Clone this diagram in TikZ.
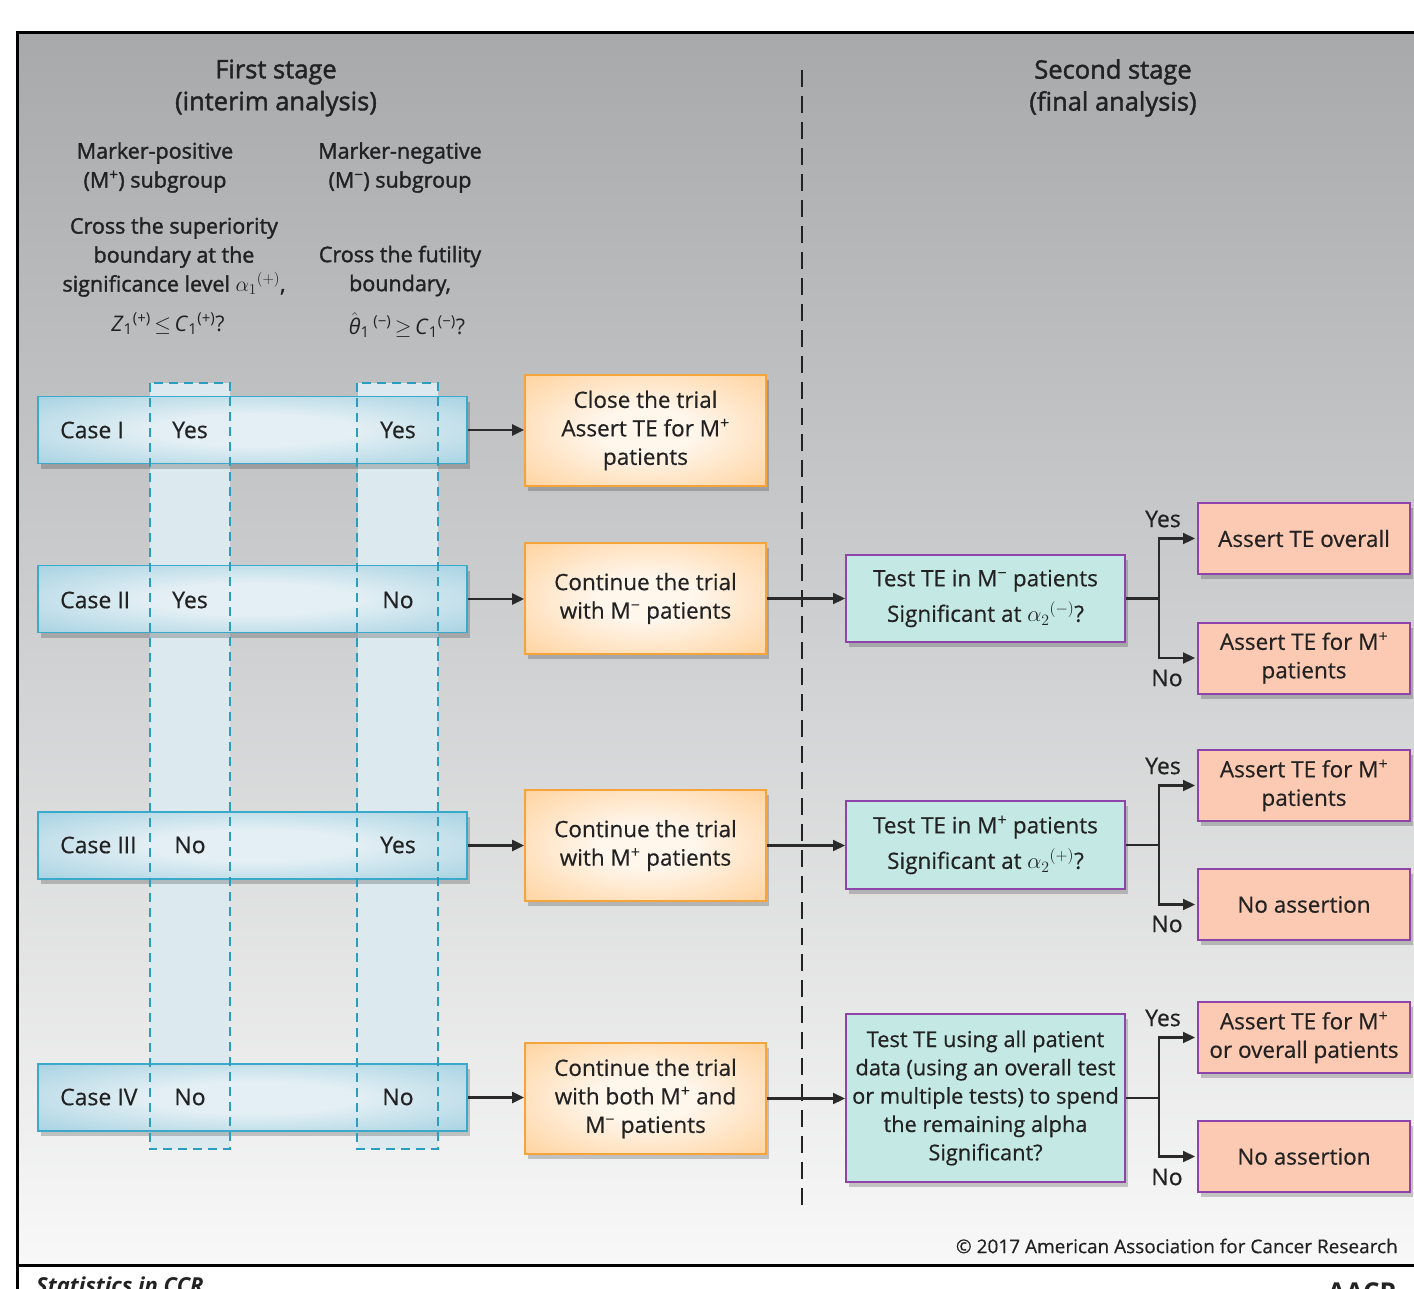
\documentclass[tikz,border=0pt]{standalone}
\usepackage{fix-cm}
\usepackage{fontspec}
\setmainfont{Open Sans}
\newfontfamily\headf{Open Sans}[FakeBold=1.6]
\newfontfamily\bodyf{Open Sans}[FakeBold=0.5]
\usetikzlibrary{shadows,arrows.meta}
\definecolor{bgtop}{HTML}{A7A9AB}
\definecolor{bgbot}{HTML}{F8F8F8}
\definecolor{rowedge}{HTML}{9CCDDF}
\definecolor{rowmid}{HTML}{E3EFF4}
\definecolor{rowline}{HTML}{3BA9C9}
\definecolor{colfill}{HTML}{DCEAF0}
\definecolor{coldash}{HTML}{2B9DBE}
\definecolor{orout}{HTML}{FFC887}
\definecolor{orin}{HTML}{FFF6EC}
\definecolor{orline}{HTML}{F4A43A}
\definecolor{tealfill}{HTML}{C4E8E3}
\definecolor{purp}{HTML}{8E44A8}
\definecolor{salmon}{HTML}{FCC9B3}
\definecolor{ink}{HTML}{222222}
\definecolor{arrowc}{HTML}{2A2A2A}
\pgfdeclareradialshading{orsh}{\pgfpoint{0bp}{0bp}}{color(0bp)=(orin); color(10bp)=(orin); color(44bp)=(orout); color(50bp)=(orout)}
\pgfdeclareradialshading{rowsh}{\pgfpoint{0bp}{0bp}}{color(0bp)=(rowmid); color(12bp)=(rowmid); color(40bp)=(rowedge); color(50bp)=(rowedge)}
\begin{document}
\begin{tikzpicture}[x=1pt,y=-1pt,
  every node/.style={text=ink, inner sep=0pt},
  sh/.style={drop shadow={shadow xshift=3pt,shadow yshift=-5pt,opacity=.2,fill=black}},
  head/.style={align=center, font=\headf\fontsize{25.5}{32}\selectfont},
  mk/.style={align=center, font=\headf\fontsize{21.5}{29}\selectfont},
  cl/.style={font=\bodyf\fontsize{23}{28.5}\selectfont},
  bx/.style={align=center, font=\bodyf\fontsize{22.5}{28.5}\selectfont},
  caserow/.style={draw=rowline, line width=1.6pt, shading=rowsh, minimum width=429pt, minimum height=67pt, sh},
  colfillst/.style={fill=colfill, minimum width=80pt, minimum height=766pt},
  coldash/.style={draw=coldash, line width=2pt, dash pattern=on 9pt off 6pt},
  obox/.style={bx, draw=orline, line width=1.8pt, shading=orsh, minimum width=241pt, minimum height=111pt, sh},
  tbox/.style={bx, draw=purp, line width=2pt, fill=tealfill, minimum width=279pt, sh},
  abox/.style={bx, draw=purp, line width=2pt, fill=salmon, minimum width=212pt, minimum height=71pt, sh},
  ln/.style={draw=arrowc, line width=2.2pt},
  arr/.style={ln, -{Triangle[length=12pt,width=11pt]}},
  divider/.style={draw=ink, line width=2.5pt, dash pattern=on 17pt off 9pt}]
\useasboundingbox (0,0) rectangle (1414,1289);
\clip (0,0) rectangle (1414,1289);
\fill[white] (0,0) rectangle (1414,1289);
\shade[top color=bgtop, bottom color=bgbot] (17,33) rectangle (1414,1265);
\draw[line width=3pt, black] (17,1289) -- (17,33) -- (1414,33);
\draw[line width=3pt, black] (17,1265) -- (1414,1265);

% headings
\node[head] (h1) at (276,88) {First stage\\(interim analysis)};
\node[head] (h2) at (1113,88) {Second stage\\(final analysis)};
\node[mk] (m1) at (155,167.5) {Marker-positive\\(M\textsuperscript{+}) subgroup};
\node[mk] (m2) at (400,167.5) {Marker-negative\\(M\textsuperscript{−}) subgroup};
\node[mk] (q1) at (174,257) {Cross the superiority\\boundary at the\\significance level $\alpha_1{}^{(+)}$,};
\node[mk, font=\fontsize{21.5}{29}\selectfont] (z1) at (168,324) {\textit{Z}\textsubscript{1}\textsuperscript{(+)}\,$\leq$\,\textit{C}\textsubscript{1}\textsuperscript{(+)}?};
\node[mk] (q2) at (400,271) {Cross the futility\\boundary,};
\node[mk, font=\fontsize{21.5}{29}\selectfont] (z2) at (407,325) {$\hat{\textit{θ}}$\textsubscript{1}\,\textsuperscript{(−)}\,$\geq$\,\textit{C}\textsubscript{1}\textsuperscript{(−)}?};

% divider
\draw[divider] (802,70) -- (802,1205);

% columns and rows
\node[colfillst] (k1) at (190,766) {};
\node[colfillst] (k2) at (397.5,766) {};
\node[caserow] (r1) at (252.5,430) {};
\node[caserow] (r2) at (252.5,599) {};
\node[caserow] (r3) at (252.5,845.5) {};
\node[caserow] (r4) at (252.5,1097.5) {};
\draw[coldash] (k1.north west) rectangle (k1.south east);
\draw[coldash] (k2.north west) rectangle (k2.south east);

\node[cl, anchor=west] (l1) at (60,430) {Case I};
\node[cl, anchor=west] (l2) at (60,600) {Case II};
\node[cl, anchor=west] (l3) at (60,845) {Case III};
\node[cl, anchor=west] (l4) at (60,1097) {Case IV};
\node[cl] (y11) at (190,430) {Yes};
\node[cl] (y12) at (398,430) {Yes};
\node[cl] (y21) at (190,600) {Yes};
\node[cl] (y22) at (398,600) {No};
\node[cl] (y31) at (190,845) {No};
\node[cl] (y32) at (398,845) {Yes};
\node[cl] (y41) at (190,1097) {No};
\node[cl] (y42) at (398,1097) {No};

% orange boxes
\node[obox] (o1) at (645.5,430.5) {Close the trial\\Assert TE for M\textsuperscript{+}\\patients};
\node[obox] (o2) at (645.5,598.5) {Continue the trial\\with M\textsuperscript{−} patients};
\node[obox] (o3) at (645.5,845.5) {Continue the trial\\with M\textsuperscript{+} patients};
\node[obox] (o4) at (645.5,1098.5) {Continue the trial\\with both M\textsuperscript{+} and\\M\textsuperscript{−} patients};

% teal boxes
\node[tbox, minimum height=87pt] (t1) at (985.5,598.5) {Test TE in M\textsuperscript{−} patients\\[7pt]Significant at $\alpha_2{}^{(-)}$?};
\node[tbox, minimum height=88pt] (t2) at (985.5,845) {Test TE in M\textsuperscript{+} patients\\[7pt]Significant at $\alpha_2{}^{(+)}$?};
\node[tbox, minimum height=168pt, font=\bodyf\fontsize{21.8}{28.3}\selectfont] (t3) at (985.5,1098) {Test TE using all patient\\data (using an overall test\\or multiple tests) to spend\\the remaining alpha\\Significant?};

% outcome boxes
\node[abox] (a1) at (1304,538.5) {Assert TE overall};
\node[abox] (a2) at (1304,658) {Assert TE for M\textsuperscript{+}\\patients};
\node[abox] (a3) at (1304,785.5) {Assert TE for M\textsuperscript{+}\\patients};
\node[abox] (a4) at (1304,904.5) {No assertion};
\node[abox] (a5) at (1304,1037.5) {Assert TE for M\textsuperscript{+}\\or overall patients};
\node[abox] (a6) at (1304,1156.5) {No assertion};

% arrows
\draw[arr] (r1.east) -- (o1.west |- r1.east);
\draw[arr] (r2.east) -- (o2.west |- r2.east);
\draw[arr] (r3.east) -- (o3.west |- r3.east);
\draw[arr] (r4.east) -- (o4.west |- r4.east);
\draw[arr] (o2.east) -- (t1.west |- o2.east);
\draw[arr] (o3.east) -- (t2.west |- o3.east);
\draw[arr] (o4.east) -- (t3.west |- o4.east);

\draw[ln] (t1.east) -- ++(33,0) coordinate (b1);
\draw[arr, shorten >=2pt] (b1) |- (a1.west);
\draw[arr, shorten >=2pt] (b1) |- (a2.west);
\draw[ln] (t2.east) -- ++(33,0) coordinate (b2);
\draw[arr, shorten >=2pt] (b2) |- (a3.west);
\draw[arr, shorten >=2pt] (b2) |- (a4.west);
\draw[ln] (t3.east) -- ++(33,0) coordinate (b3);
\draw[arr, shorten >=2pt] (b3) |- (a5.west);
\draw[arr, shorten >=2pt] (b3) |- (a6.west);

\node[cl] (ys1) at (1163,519) {Yes};
\node[cl] (no1) at (1167,678) {No};
\node[cl] (ys2) at (1163,766) {Yes};
\node[cl] (no2) at (1167,924) {No};
\node[cl] (ys3) at (1163,1018) {Yes};
\node[cl] (no3) at (1167,1177) {No};

% footer
\node[anchor=east, font=\bodyf\fontsize{19}{22}\selectfont] (cp) at (1398,1246) {© 2017 American Association for Cancer Research};
\node[anchor=base west, font=\fontsize{22}{26}\bfseries\itshape] (st) at (36,1293) {Statistics in CCR};
\node[anchor=base east, font=\fontsize{26}{30}\bfseries] (aacr) at (1397,1301) {AACR};
\end{tikzpicture}
\end{document}
